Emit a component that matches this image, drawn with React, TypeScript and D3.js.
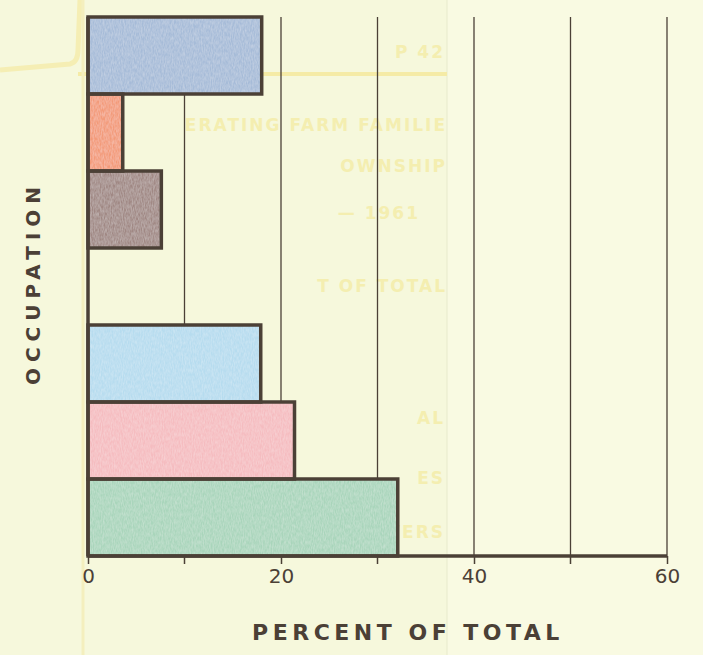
import * as d3 from "d3";
import { useEffect, useRef } from "react";
import * as React from "react";

// occupation categories (not labelled on the chart itself)
const categories = ["Cat 1", "Cat 2", "Cat 3", "Cat 4", "Cat 5", "Cat 6", "Cat 7"];
const percents = [18.0, 3.6, 7.6, 0, 17.9, 21.4, 32.1];
const fills = ["#a6bbd8", "#f39a78", "#a08884", "none", "#b6dcef", "#f5bcc0", "#a9d5bb"];
const xTicks = [0, 20, 40, 60];
const xGrid = [10, 20, 30, 40, 50, 60];
const minorTicks = [10, 30, 50];

// faint show-through from the sheet underneath
const ghostLines = [
  { text: "P 42", x: 445, y: 58 },
  { text: "ERATING FARM FAMILIE", x: 447, y: 131 },
  { text: "OWNSHIP", x: 447, y: 172 },
  { text: "— 1961", x: 420, y: 219 },
  { text: "T OF TOTAL", x: 447, y: 292 },
  { text: "AL", x: 445, y: 424 },
  { text: "ES", x: 445, y: 484 },
  { text: "DRIVERS", x: 445, y: 538 },
];

const W = 703;
const H = 655;
const ink = "#4b4036";

const App: React.FC = () => {
  const ref = useRef<SVGSVGElement>(null);

  useEffect(() => {
    const svg = d3.select(ref.current);
    svg.selectAll("*:not(defs):not(defs *)").remove();

    const margin = { top: 17, left: 88, right: 36, bottom: 99 };
    const w = W - margin.left - margin.right;
    const h = H - margin.top - margin.bottom;

    // paper
    svg.append("rect").attr("width", W).attr("height", H).attr("fill", "#f6f8dc");
    svg.append("rect").attr("x", 447).attr("width", W - 447).attr("height", H).attr("fill", "#f9fae2");
    svg.append("line").attr("x1", 447).attr("x2", 447).attr("y1", 0).attr("y2", H)
      .attr("stroke", "#e8eacc").attr("stroke-width", 1);

    // show-through marks
    svg.append("path")
      .attr("d", "M0,70 L70,64 Q78,62 78,50 L80,0")
      .attr("fill", "none").attr("stroke", "#f5eeb4").attr("stroke-width", 5);
    svg.append("line").attr("x1", 78).attr("x2", 447).attr("y1", 74).attr("y2", 74)
      .attr("stroke", "#f5eba6").attr("stroke-width", 4);
    svg.append("line").attr("x1", 83).attr("x2", 83).attr("y1", 0).attr("y2", H)
      .attr("stroke", "#f4efbe").attr("stroke-width", 3);
    svg.append("g").selectAll("text").data(ghostLines).enter().append("text")
      .attr("x", (d) => d.x).attr("y", (d) => d.y)
      .attr("text-anchor", "end")
      .attr("font-family", "DejaVu Sans, sans-serif")
      .attr("font-weight", "bold")
      .attr("font-size", 17)
      .attr("letter-spacing", 2)
      .attr("fill", "#f4eeb0")
      .text((d) => d.text);

    const g = svg.append("g").attr("transform", `translate(${margin.left},${margin.top})`);

    const x = d3.scaleLinear().domain([0, 60]).range([0, w]);
    const y = d3.scaleBand().domain(categories).range([0, h]).padding(0);

    // grid lines
    g.selectAll(".grid").data(xGrid).enter().append("line")
      .attr("x1", (d) => x(d)).attr("x2", (d) => x(d))
      .attr("y1", 0).attr("y2", h)
      .attr("stroke", ink).attr("stroke-width", 1.3);

    // bars
    const data = categories.map((c, i) => ({ c, v: percents[i], f: fills[i] }));
    const shown = data.filter((d) => d.v > 0);
    g.selectAll(".bar").data(shown).enter().append("rect")
      .attr("x", x(0))
      .attr("y", (d) => y(d.c)!)
      .attr("width", (d) => x(d.v) - x(0))
      .attr("height", y.bandwidth())
      .attr("fill", (d) => d.f)
      .attr("filter", "url(#pencil)");
    g.selectAll(".barEdge").data(shown).enter().append("rect")
      .attr("x", x(0))
      .attr("y", (d) => y(d.c)!)
      .attr("width", (d) => x(d.v) - x(0))
      .attr("height", y.bandwidth())
      .attr("fill", "none")
      .attr("stroke", ink)
      .attr("stroke-width", 3.5);

    // y axis line
    g.append("line").attr("x1", 0).attr("x2", 0).attr("y1", 0).attr("y2", h)
      .attr("stroke", ink).attr("stroke-width", 3.5);

    // x axis
    const xAxis = g.append("g").attr("transform", `translate(0,${h})`)
      .call(d3.axisBottom(x).tickValues(xTicks).tickSize(8).tickPadding(5).tickFormat(d3.format("d")));
    xAxis.select(".domain").attr("stroke", ink).attr("stroke-width", 3.5).attr("d", `M0,0H${w}`);
    xAxis.selectAll(".tick line").attr("stroke", ink).attr("stroke-width", 1.5);
    xAxis.selectAll(".tick text")
      .attr("fill", ink)
      .attr("font-family", "DejaVu Sans, sans-serif")
      .attr("font-size", 20);
    g.selectAll(".minor").data(minorTicks).enter().append("line")
      .attr("x1", (d) => x(d)).attr("x2", (d) => x(d))
      .attr("y1", h).attr("y2", h + 8)
      .attr("stroke", ink).attr("stroke-width", 1.5);

    // axis titles
    svg.append("text")
      .attr("x", 408).attr("y", 640)
      .attr("text-anchor", "middle")
      .attr("font-family", "DejaVu Sans, sans-serif")
      .attr("font-weight", "bold")
      .attr("font-size", 22)
      .attr("letter-spacing", 4.5)
      .attr("fill", ink)
      .text("PERCENT OF TOTAL");
    svg.append("text")
      .attr("transform", "translate(40,283) rotate(-90)")
      .attr("text-anchor", "middle")
      .attr("font-family", "DejaVu Sans, sans-serif")
      .attr("font-weight", "bold")
      .attr("font-size", 20)
      .attr("letter-spacing", 6)
      .attr("fill", ink)
      .text("OCCUPATION");

    return () => {
      svg.selectAll("*:not(defs):not(defs *)").remove();
    };
  });

  return (
    <svg ref={ref} width={W} height={H} style={{ position: "absolute", left: 0, top: 0 }}>
      <defs>
        <filter id="pencil" x="0" y="0" width="100%" height="100%">
          <feTurbulence type="fractalNoise" baseFrequency="0.9 0.25" numOctaves="2" seed="3" result="noise" />
          <feColorMatrix in="noise" type="matrix"
            values="0 0 0 0 1  0 0 0 0 1  0 0 0 0 1  0 0 0 0.4 -0.1" result="specks" />
          <feComposite in="specks" in2="SourceGraphic" operator="in" result="clipped" />
          <feMerge>
            <feMergeNode in="SourceGraphic" />
            <feMergeNode in="clipped" />
          </feMerge>
        </filter>
      </defs>
    </svg>
  );
};

export default App;
